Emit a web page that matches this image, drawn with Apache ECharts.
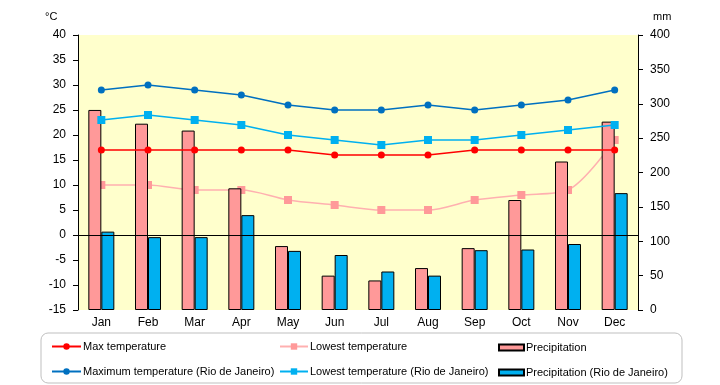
<!DOCTYPE html>
<html><head><meta charset="utf-8">
<script src="https://cdn.jsdelivr.net/npm/echarts@6/dist/echarts.min.js"></script>
<style>html,body{margin:0;padding:0;background:#fff}#c{width:720px;height:385px}</style>
</head><body><div id="c"></div>
<script>
const months = ['Jan','Feb','Mar','Apr','May','Jun','Jul','Aug','Sep','Oct','Nov','Dec'];
const maxTemp = [17,17,17,17,17,16,16,16,17,17,17,17];
const lowTemp = [10,10,9,9,7,6,5,5,7,8,9,19];
const precip = [291,271,261,177,93,50,43,61,90,160,216,274];
const maxTempRio = [29,30,29,28,26,25,25,26,25,26,27,29];
const lowTempRio = [23,24,23,22,20,19,18,19,19,20,21,22];
const precipRio = [114,106,106,138,86,80,56,50,87,88,96,170];
const tempTicks = {min:-15, max:40, interval:5};
const mmTicks = {min:0, max:400, interval:50};

const FONT = 'Liberation Sans';
const chart = echarts.init(document.getElementById('c'), null, {renderer:'canvas'});
const legendBase = (name, left, top, w, h, icon) => {
  const l = {data:[name], left:left, top:top, itemWidth:w, itemHeight:h, itemGap:0, padding:0,
    textStyle:{fontFamily:FONT, fontSize:11, color:'#000', padding:[0,0,0,-3]}, selectedMode:false};
  if (icon) l.icon = icon;
  return l;
};
chart.setOption({
  animation:false,
  grid:{left:78, right:82, top:35, bottom:75, show:true, backgroundColor:'#FFFFCC', borderWidth:0},
  graphic:[
    {type:'rect', shape:{x:41, y:333, width:641, height:50, r:7}, style:{fill:'none', stroke:'#BFBFBF', lineWidth:1}, z:-1},
    {type:'text', left:45, top:11, style:{text:'°C', font:'11px '+FONT, fill:'#000'}},
    {type:'text', left:653, top:11, style:{text:'mm', font:'11px '+FONT, fill:'#000'}}
  ],
  legend:[
    legendBase('Max temperature', 51, 341, 29, 8),
    legendBase('Lowest temperature', 279, 341, 28, 8),
    legendBase('Precipitation', 498, 342, 25, 6, 'rect'),
    legendBase('Maximum temperature (Rio de Janeiro)', 51, 366, 29, 8),
    legendBase('Lowest temperature (Rio de Janeiro)', 279, 366, 28, 8),
    legendBase('Precipitation (Rio de Janeiro)', 498, 367, 25, 6, 'rect')
  ],
  xAxis:{type:'category', data:months, boundaryGap:true,
    axisLine:{show:false}, axisTick:{show:false},
    axisLabel:{color:'#000', fontFamily:FONT, fontSize:12, margin:7}},
  yAxis:[
    {type:'value', min:tempTicks.min, max:tempTicks.max, interval:tempTicks.interval,
      axisLine:{show:true, lineStyle:{color:'#000', width:1}}, axisTick:{show:true, length:5, lineStyle:{color:'#000'}},
      splitLine:{show:false}, axisLabel:{color:'#000', fontFamily:FONT, fontSize:12, margin:12}},
    {type:'value', min:mmTicks.min, max:mmTicks.max, interval:mmTicks.interval, position:'right',
      axisLine:{show:true, lineStyle:{color:'#000', width:1}}, axisTick:{show:true, length:5, lineStyle:{color:'#000'}},
      splitLine:{show:false}, axisLabel:{color:'#000', fontFamily:FONT, fontSize:12, margin:12}}
  ],
  series:[
    {name:'Lowest temperature', type:'line', data:lowTemp, yAxisIndex:0, smooth:0.3, z:1,
      symbol:'rect', symbolSize:8, lineStyle:{color:'#FFB0B0', width:1.5}, itemStyle:{color:'#FF9999'},
      markLine:{silent:true, symbol:'none', label:{show:false}, lineStyle:{color:'#000', type:'solid', width:1},
        data:[{yAxis:0}]}},
    {name:'Precipitation', type:'bar', data:precip, yAxisIndex:1, barWidth:13, barGap:'0%', z:2,
      itemStyle:{color:'#FF9999', borderColor:'#000', borderWidth:1}},
    {name:'Precipitation (Rio de Janeiro)', type:'bar', data:precipRio, yAxisIndex:1, barWidth:13, barGap:'0%', z:2,
      itemStyle:{color:'#00B0F0', borderColor:'#000', borderWidth:1}},
    {name:'Max temperature', type:'line', data:maxTemp, yAxisIndex:0, z:3,
      symbol:'circle', symbolSize:7, lineStyle:{color:'#FF0000', width:1.5}, itemStyle:{color:'#FF0000'}},
    {name:'Maximum temperature (Rio de Janeiro)', type:'line', data:maxTempRio, yAxisIndex:0, z:3,
      symbol:'circle', symbolSize:7, lineStyle:{color:'#0070C0', width:1.5}, itemStyle:{color:'#0070C0'}},
    {name:'Lowest temperature (Rio de Janeiro)', type:'line', data:lowTempRio, yAxisIndex:0, z:3,
      symbol:'rect', symbolSize:8, lineStyle:{color:'#00B0F0', width:1.5}, itemStyle:{color:'#00B0F0'}}
  ]
});
</script></body></html>
